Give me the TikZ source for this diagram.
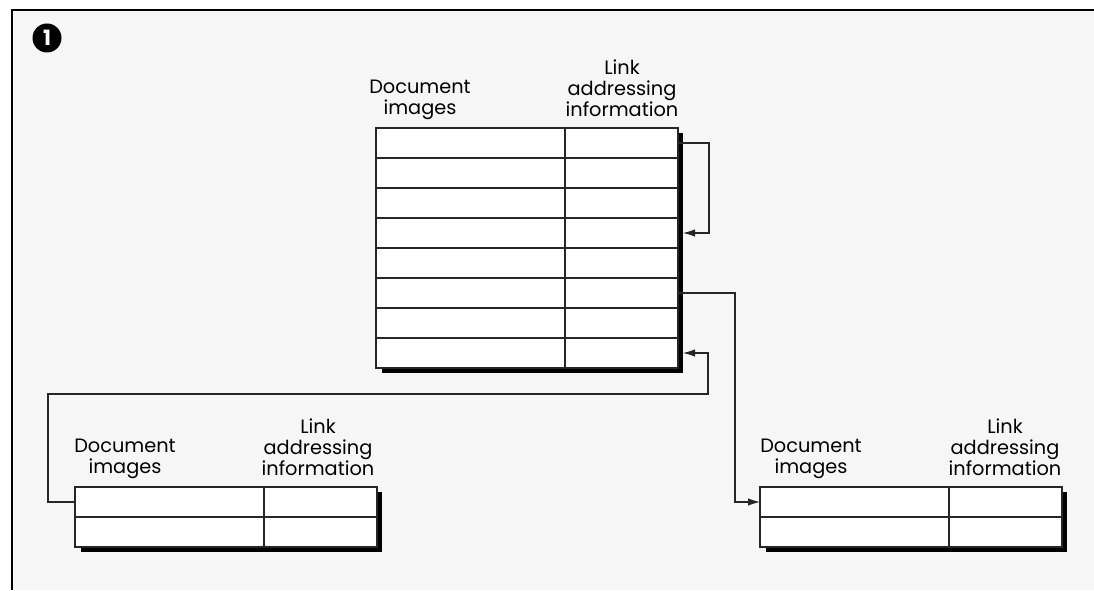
\documentclass[tikz,border=0pt]{standalone}
\usepackage{fontspec}
\setmainfont{Poppins}
\usetikzlibrary{arrows.meta,calc,positioning,fit,backgrounds}
\tikzset{cell/.style={draw=black!85,fill=white,line width=0.7pt,minimum height=0.6cm,inner sep=0pt,outer sep=0pt},
  imgcell/.style={cell,minimum width=3.78cm},
  lnkcell/.style={cell,minimum width=2.26cm},
  arr/.style={-{Latex[length=2.4mm,width=1.5mm]},line width=0.6pt,black!85},
  lbl/.style={align=center,font=\fontsize{11}{12}\selectfont}}
\begin{document}
\begin{tikzpicture}
\useasboundingbox (0,0) rectangle (21.88,11.8);
\begin{scope}[on background layer]
\fill[gray!7] (0.24,0) rectangle (21.88,11.6);
\end{scope}
\draw[line width=1.6pt] (0.24,0) -- (0.24,11.6) -- (21.88,11.6);
\node[circle,fill=black,text=white,inner sep=0pt,minimum size=0.58cm,font=\bfseries\fontsize{12}{12}\selectfont] (badge) at (0.94,11.04) {1};
% tables
\foreach \i in {1,...,8}{\node[imgcell] (img\i) at (9.41,{8.94-0.6*(\i-1)}){}; \node[lnkcell,right=0pt of img\i] (lnk\i){};}
\foreach \i in {1,2}{\node[imgcell] (limg\i) at (3.39,{1.76-0.6*(\i-1)}){}; \node[lnkcell,right=0pt of limg\i] (llnk\i){};}
\foreach \i in {1,2}{\node[imgcell] (rimg\i) at (17.09,{1.76-0.6*(\i-1)}){}; \node[lnkcell,right=0pt of rimg\i] (rlnk\i){};}
\node[fit=(img1)(lnk8),inner sep=0pt] (main){};
\node[fit=(limg1)(llnk2),inner sep=0pt] (ltab){};
\node[fit=(rimg1)(rlnk2),inner sep=0pt] (rtab){};
\begin{scope}[on background layer]
\foreach \t in {main,ltab,rtab}{\fill[black] ($(\t.north east)+(0.1,-0.1)$) rectangle ($(\t.south west)+(0.12,-0.1)$);}
\end{scope}
% labels
\node[lbl] (mdoc) at (8.40,9.80){Document\\images};
\node[lbl] (mlnk) at (12.44,10.04){Link\\addressing\\information};
\node[lbl] (ldoc) at (2.50,2.63){Document\\images};
\node[lbl] (llnk) at (6.36,2.86){Link\\addressing\\information};
\node[lbl] (rdoc) at (16.22,2.63){Document\\images};
\node[lbl] (rlnk) at (20.10,2.86){Link\\addressing\\information};
% links
\coordinate (bend) at (14.16,3.92);
\draw[arr,shorten >=0.1cm] (lnk1.east) -- ++(0.62,0) |- (lnk4.east);
\draw[arr] (lnk6.east) -- ++(1.14,0) |- (rimg1.west);
\draw[arr,shorten >=0.1cm] (limg1.west) -- ++(-0.54,0) |- (bend) |- (lnk8.east);
\end{tikzpicture}
\end{document}
